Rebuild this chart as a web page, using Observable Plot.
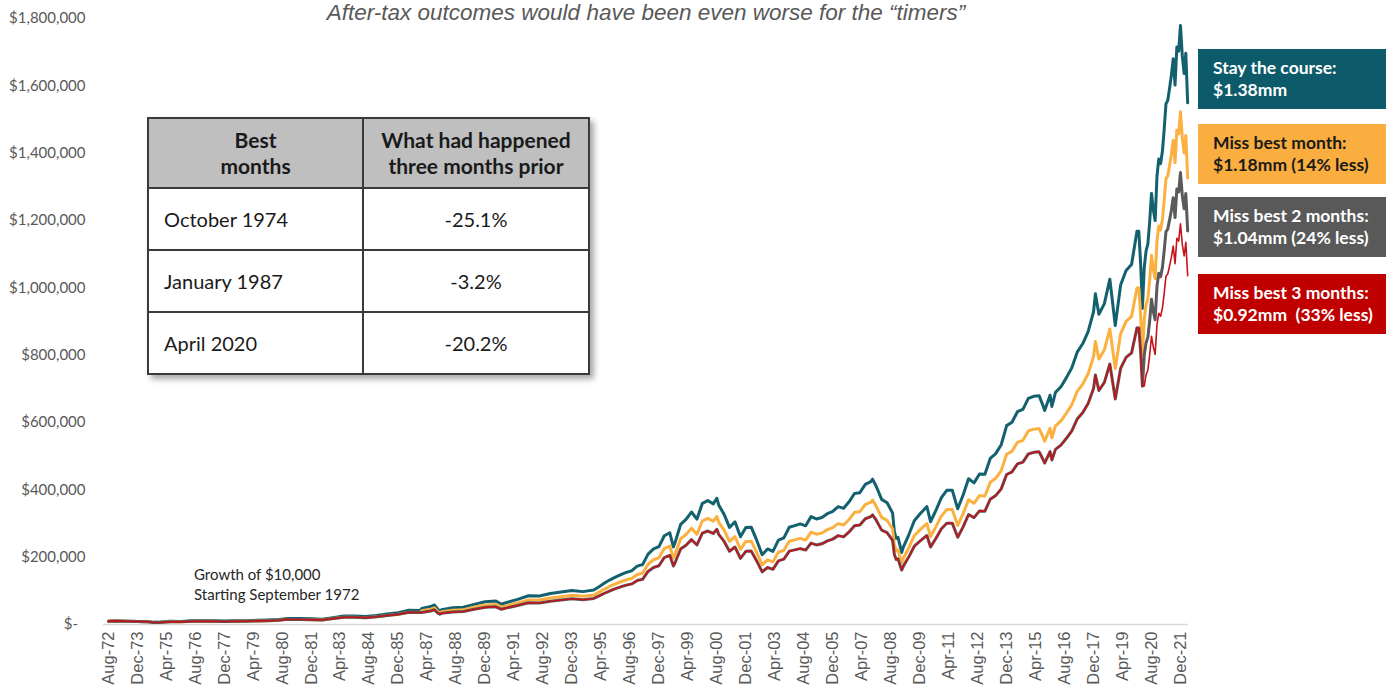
<!DOCTYPE html>
<html><head><meta charset="utf-8">
<script src="https://cdn.jsdelivr.net/npm/d3@7"></script>
<script src="https://cdn.jsdelivr.net/npm/@observablehq/plot@0.6"></script>
<style>
body{margin:0;background:#fff;}
#wrap{position:relative;width:1390px;height:692px;overflow:hidden;font-family:Lato,"Noto Sans",sans-serif;}
#chart{position:absolute;left:0;top:0;}
.title{position:absolute;left:0;width:1292px;top:0;text-align:center;font-family:"Liberation Sans",Arial,sans-serif;font-style:italic;font-size:22.5px;line-height:normal;color:#595959;}
.note{position:absolute;left:194px;top:564px;font-size:15px;line-height:20px;color:#262626;}
table.best{position:absolute;left:147px;top:117px;width:443px;height:257px;border-collapse:collapse;box-shadow:4px 4px 6px rgba(0,0,0,0.35);background:#fff;font-size:20px;color:#1a1a1a;}
table.best td, table.best th{border:2px solid #3a3a3a;padding:0;}
table.best th{background:#bfbfbf;font-weight:700;font-size:21px;line-height:26px;height:68px;text-align:center;}
table.best td{height:60px;}
table.best td.l{text-align:left;padding-left:15px;width:198px;}
table.best td.r{text-align:center;}
.box{position:absolute;left:1198px;width:188px;height:60px;display:flex;flex-direction:column;justify-content:center;padding-left:15px;box-sizing:border-box;font-weight:700;font-size:17.5px;line-height:22px;color:#fff;white-space:nowrap;}
</style>
</head><body>
<div id="wrap">
  <div id="chart"></div>
  <div class="title">After-tax outcomes would have been even worse for the “timers”</div>
  <div class="note">Growth of $10,000<br>Starting September 1972</div>
  <table class="best">
    <tr><th>Best<br>months</th><th>What had happened<br>three months prior</th></tr>
    <tr><td class="l">October 1974</td><td class="r">-25.1%</td></tr>
    <tr><td class="l">January 1987</td><td class="r">-3.2%</td></tr>
    <tr><td class="l">April 2020</td><td class="r">-20.2%</td></tr>
  </table>
  <div class="box" style="top:49px;background:#0d5b6a;">Stay the course:<br>$1.38mm</div>
  <div class="box" style="top:124px;background:#f9ae3f;color:#1a1a1a;">Miss best month:<br>$1.18mm (14% less)</div>
  <div class="box" style="top:197px;background:#595959;">Miss best 2 months:<br>$1.04mm (24% less)</div>
  <div class="box" style="top:274px;background:#c00000;">Miss best 3 months:<br>$0.92mm&nbsp; (33% less)</div>
</div>
<script>
// Month of each observation (values in $ thousands)
const months = [
"1972-08","1972-12","1973-06","1973-12","1974-06","1974-09","1974-10","1974-12",
"1975-06","1975-12","1976-06","1976-12","1977-06","1977-12","1978-06","1978-12","1979-06","1979-12",
"1980-06","1980-11","1980-12","1981-06","1981-12","1982-06","1982-12","1983-06","1983-12","1984-06","1984-12","1985-06","1985-12","1986-06","1986-12",
"1987-01","1987-06","1987-08","1987-10","1987-11","1987-12","1988-06","1988-12","1989-06","1989-12",
"1990-06","1990-09","1990-12","1991-06","1991-12","1992-06","1992-12","1993-06","1993-12","1994-06","1994-12",
"1995-03","1995-06","1995-09","1995-12",
"1996-03","1996-06","1996-09","1996-12",
"1997-03","1997-06","1997-09","1997-12",
"1998-03","1998-06","1998-08","1998-09","1998-12",
"1999-03","1999-06","1999-09","1999-12",
"2000-03","2000-06","2000-08","2000-09","2000-12",
"2001-03","2001-06","2001-09","2001-12",
"2002-03","2002-06","2002-09","2002-12",
"2003-03","2003-06","2003-09","2003-12",
"2004-03","2004-06","2004-09","2004-12",
"2005-03","2005-06","2005-09","2005-12",
"2006-03","2006-06","2006-09","2006-12",
"2007-03","2007-06","2007-09","2007-10","2007-12",
"2008-03","2008-06","2008-09","2008-10","2008-11","2008-12",
"2009-02","2009-03","2009-06","2009-09","2009-12",
"2010-03","2010-04","2010-06","2010-09","2010-12",
"2011-03","2011-06","2011-09","2011-12",
"2012-03","2012-06","2012-09","2012-12",
"2013-03","2013-06","2013-09","2013-12",
"2014-03","2014-06","2014-09","2014-12",
"2015-03","2015-06","2015-08","2015-09","2015-12",
"2016-01","2016-03","2016-06","2016-09","2016-12",
"2017-03","2017-06","2017-09","2017-12",
"2018-01","2018-03","2018-06","2018-09","2018-12",
"2019-03","2019-06","2019-09","2019-12",
"2020-01","2020-02","2020-03","2020-04","2020-05","2020-06","2020-07","2020-08","2020-09","2020-10","2020-11","2020-12",
"2021-01","2021-02","2021-03","2021-04","2021-05","2021-06","2021-07","2021-08","2021-09","2021-10","2021-11","2021-12",
"2022-01","2022-02","2022-03","2022-04"
];

const stayCourse = [
10.0,10.73,9.65,9.15,8.24,6.16,7.20,6.73,
9.55,9.23,10.87,11.43,10.92,10.61,10.93,11.31,12.45,13.39,
14.53,18.22,17.73,17.56,16.86,15.49,20.47,25.01,25.08,23.81,26.66,31.19,35.25,42.60,41.77,
47.39,53.22,58.02,44.52,40.80,43.94,49.51,51.32,59.70,67.49,
69.60,60.02,65.40,74.69,85.35,84.77,91.84,96.29,101.1,97.65,102.4,
112.4,123.0,132.8,140.9,
148.4,155.0,159.8,173.4,
177.9,209.0,224.6,231.3,
263.6,272.4,230.4,245.0,297.4,
312.2,334.1,313.1,359.9,
368.1,358.4,374.7,354.6,327.1,
288.3,305.2,260.5,288.2,
289.2,250.4,207.1,224.5,
217.3,250.6,257.4,288.9,
293.8,298.8,293.1,320.4,
313.4,317.8,329.1,336.1,
350.0,345.1,364.4,389.2,
391.5,416.3,424.5,431.6,410.6,
371.7,361.5,331.4,275.8,255.7,258.7,
214.0,229.9,266.5,308.2,327.3,
344.6,350.4,305.2,339.6,376.7,
398.7,399.1,343.6,384.6,
432.9,420.7,447.2,446.1,
493.3,507.5,533.9,590.7,
600.8,632.1,639.1,671.6,
677.9,679.7,651.6,635.7,681.0,
647.8,689.6,706.3,733.3,762.7,
808.9,833.8,870.2,929.0,
982.2,921.3,953.0,1025.7,888.1,
1008.2,1051.5,1069.3,1167.9,
1167.7,1071.0,938.5,1059.1,1108.7,1130.7,1194.8,1280.4,1232.1,1199.7,1330.8,1382.7,
1369.0,1406.2,1467.6,1546.4,1556.6,1593.0,1631.3,1680.4,1602.3,1715.1,1702.8,1779.5,
1687.7,1636.6,1696.9,1549.4
];

const missBest1 = [
10.0,10.73,9.65,9.15,8.24,6.16,6.16,5.76,
8.17,7.90,9.30,9.78,9.35,9.08,9.36,9.68,10.66,11.46,
12.44,15.60,15.18,15.03,14.43,13.26,17.52,21.41,21.47,20.38,22.82,26.70,30.17,36.47,35.76,
40.57,45.56,49.67,38.11,34.92,37.61,42.38,43.93,51.10,57.77,
59.58,51.38,55.98,63.93,73.06,72.56,78.61,82.42,86.6,83.6,87.7,
96.2,105.3,113.7,120.6,
127.0,132.7,136.8,148.4,
152.3,178.9,192.3,198.0,
225.6,233.2,197.2,209.7,254.6,
267.2,286.0,268.0,308.1,
315.1,306.8,320.7,303.5,280.0,
246.8,261.3,223.0,246.7,
247.6,214.3,177.3,192.2,
186.0,214.5,220.3,247.3,
251.5,255.8,250.9,274.3,
268.3,272.0,281.7,287.7,
299.6,295.4,311.9,333.2,
335.1,356.4,363.4,369.4,351.5,
318.2,309.4,283.7,236.1,218.9,221.4,
183.2,196.8,228.1,263.8,280.2,
295.0,299.9,261.3,290.7,322.5,
341.3,341.6,294.1,329.2,
370.6,360.1,382.8,381.9,
422.3,434.4,457.0,505.6,
514.3,541.1,547.1,574.9,
580.3,581.8,557.8,544.2,582.9,
554.5,590.3,604.6,627.7,652.9,
692.4,713.7,744.9,795.2,
840.8,788.6,815.8,878.0,760.2,
863.0,900.1,915.3,999.7,
999.5,916.8,803.4,906.6,949.0,967.9,1022.8,1096.0,1054.7,1026.9,1139.2,1183.6,
1171.9,1203.7,1256.3,1323.7,1332.5,1363.6,1396.4,1438.4,1371.6,1468.1,1457.6,1523.3,
1444.7,1400.9,1452.6,1326.3
];

const missBest2 = [
10.0,10.73,9.65,9.15,8.24,6.16,6.16,5.76,
8.17,7.90,9.30,9.78,9.35,9.08,9.36,9.68,10.66,11.46,
12.44,15.60,15.18,15.03,14.43,13.26,17.52,21.41,21.47,20.38,22.82,26.70,30.17,36.47,35.76,
35.75,40.15,43.77,33.59,30.78,33.15,37.35,38.72,45.04,50.91,
52.51,45.28,49.34,56.35,64.39,63.95,69.28,72.64,76.3,73.7,77.3,
84.8,92.8,100.2,106.3,
112.0,116.9,120.6,130.8,
134.2,157.7,169.4,174.5,
198.9,205.5,173.8,184.8,224.4,
235.5,252.0,236.2,271.5,
277.7,270.4,282.7,267.5,246.8,
217.5,230.2,196.5,217.4,
218.2,188.9,156.2,169.4,
163.9,189.1,194.2,217.9,
221.6,225.4,221.1,241.7,
236.4,239.7,248.3,253.6,
264.0,260.3,274.9,293.6,
295.3,314.1,320.2,325.6,309.8,
280.4,272.7,250.0,208.1,192.9,195.2,
161.4,173.4,201.0,232.5,246.9,
260.0,264.3,230.2,256.2,284.2,
300.8,301.1,259.2,290.1,
326.6,317.4,337.4,336.5,
372.1,382.9,402.8,445.6,
453.2,476.9,482.1,506.6,
511.4,512.8,491.6,479.6,513.7,
488.7,520.2,532.8,553.2,575.4,
610.2,629.0,656.5,700.8,
741.0,695.0,719.0,773.8,670.0,
760.6,793.3,806.7,881.1,
880.9,808.0,708.0,799.0,836.4,853.0,901.4,965.9,929.5,905.1,1004.0,1043.1,
1032.8,1060.8,1107.2,1166.6,1174.3,1201.8,1230.7,1267.7,1208.8,1293.9,1284.6,1342.5,
1273.2,1234.7,1280.1,1168.9
];

const missBest3 = [
10.0,10.73,9.65,9.15,8.24,6.16,6.16,5.76,
8.17,7.90,9.30,9.78,9.35,9.08,9.36,9.68,10.66,11.46,
12.44,15.60,15.18,15.03,14.43,13.26,17.52,21.41,21.47,20.38,22.82,26.70,30.17,36.47,35.76,
35.75,40.15,43.77,33.59,30.78,33.15,37.35,38.72,45.04,50.91,
52.51,45.28,49.34,56.35,64.39,63.95,69.28,72.64,76.3,73.7,77.3,
84.8,92.8,100.2,106.3,
112.0,116.9,120.6,130.8,
134.2,157.7,169.4,174.5,
198.9,205.5,173.8,184.8,224.4,
235.5,252.0,236.2,271.5,
277.7,270.4,282.7,267.5,246.8,
217.5,230.2,196.5,217.4,
218.2,188.9,156.2,169.4,
163.9,189.1,194.2,217.9,
221.6,225.4,221.1,241.7,
236.4,239.7,248.3,253.6,
264.0,260.3,274.9,293.6,
295.3,314.1,320.2,325.6,309.8,
280.4,272.7,250.0,208.1,192.9,195.2,
161.4,173.4,201.0,232.5,246.9,
260.0,264.3,230.2,256.2,284.2,
300.8,301.1,259.2,290.1,
326.6,317.4,337.4,336.5,
372.1,382.9,402.8,445.6,
453.2,476.9,482.1,506.6,
511.4,512.8,491.6,479.6,513.7,
488.7,520.2,532.8,553.2,575.4,
610.2,629.0,656.5,700.8,
741.0,695.0,719.0,773.8,670.0,
760.6,793.3,806.7,881.1,
880.9,808.0,708.0,708.3,741.5,756.2,799.1,856.3,824.0,802.4,890.0,924.7,
915.6,940.5,981.5,1034.2,1041.1,1065.4,1091.0,1123.8,1071.6,1147.1,1138.8,1190.1,
1128.7,1094.6,1134.9,1036.2
];

const yTicks = [0,200000,400000,600000,800000,1000000,1200000,1400000,1600000,1800000];
const xTickLabels = ["Aug-72","Dec-73","Apr-75","Aug-76","Dec-77","Apr-79","Aug-80","Dec-81","Apr-83","Aug-84",
"Dec-85","Apr-87","Aug-88","Dec-89","Apr-91","Aug-92","Dec-93","Apr-95","Aug-96","Dec-97","Apr-99","Aug-00",
"Dec-01","Apr-03","Aug-04","Dec-05","Apr-07","Aug-08","Dec-09","Apr-11","Aug-12","Dec-13","Apr-15","Aug-16",
"Dec-17","Apr-19","Aug-20","Dec-21"];

const seriesColors = {stay:"#13606f", miss1:"#fbb040", miss2:"#5a5a5a", miss3:"#c3141c"};

const parseMonth = d3.utcParse("%Y-%m");
const parseTick = d3.utcParse("%b-%y");
const toRows = arr => months.map((m, i) => ({date: parseMonth(m), value: arr[i] * 1000}));
const xTickDates = xTickLabels.map(parseTick);

const chart = Plot.plot({
  width: 1390, height: 692,
  marginLeft: 103, marginRight: 202, marginTop: 18, marginBottom: 68,
  style: {fontFamily: "'Liberation Sans', Arial, sans-serif", background: "transparent", overflow: "visible"},
  x: {type: "utc", domain: [new Date("1972-05-10"), new Date("2022-04-15")], label: null},
  y: {domain: [0, 1800000], label: null},
  marks: [
    Plot.ruleY([0], {stroke: "#d9d9d9", strokeWidth: 1.5}),
    Plot.line(toRows(stayCourse), {x: "date", y: "value", stroke: seriesColors.stay, strokeWidth: 3}),
    Plot.line(toRows(missBest1), {x: "date", y: "value", stroke: seriesColors.miss1, strokeWidth: 3}),
    Plot.line(toRows(missBest2), {x: "date", y: "value", stroke: seriesColors.miss2, strokeWidth: 3}),
    Plot.line(toRows(missBest3), {x: "date", y: "value", stroke: seriesColors.miss3, strokeWidth: 1.6}),
    Plot.axisY(yTicks, {tickSize: 0, tickPadding: 18, fontSize: 15, fontFamily: "Lato, sans-serif", color: "#595959",
      tickFormat: d => d === 0 ? "$-\u2002" : "$" + d3.format(",")(d)}),
    Plot.axisX(xTickDates, {tickSize: 0, tickPadding: 7, tickRotate: -90, fontSize: 16.5, color: "#595959",
      tickFormat: d3.utcFormat("%b-%y")})
  ]
});
document.getElementById("chart").appendChild(chart);
</script>
</body></html>
